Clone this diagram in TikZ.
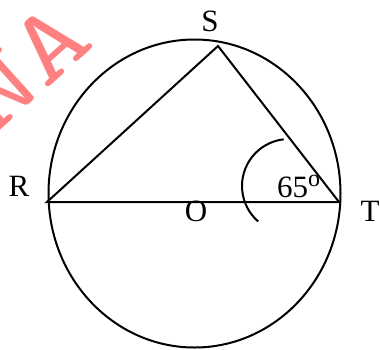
\documentclass[tikz,border=0pt]{standalone}
\usepackage{fontspec}
\setmainfont{Liberation Serif}
\definecolor{markred}{RGB}{255,128,128}
\begin{document}
\begin{tikzpicture}[x=1pt, y=-1pt, every node/.style={inner sep=0pt, font=\fontsize{31}{31}\selectfont}, line width=2pt]
        \useasboundingbox (0,0) rectangle (380,349);
        \node[rotate=42, anchor=base east, text=markred, font=\ttfamily\fontsize{103}{103}\selectfont] (mark) at (97,44) {\scalebox{1.3}[1]{NA}};
        \draw (194.5,193.5) ellipse [x radius=146, y radius=154];
        \coordinate (R) at (47,202);
        \coordinate (S) at (218,46);
        \coordinate (T) at (339,202);
        \draw (R) -- (S) -- (T) -- cycle;
        \draw ([shift={(-96.5:47)}]289,186) arc[start angle=-96.5, end angle=-229, radius=47];
        \node (labS) at (210,21) {S};
        \node (labR) at (19,186) {R};
        \node (labT) at (370,211) {T};
        \node (labO) at (196,211) {O};
        \node[anchor=base west] (angle) at (276,197) {65\raisebox{11pt}{\fontsize{24}{24}\selectfont o}};
    \end{tikzpicture}
\end{document}
